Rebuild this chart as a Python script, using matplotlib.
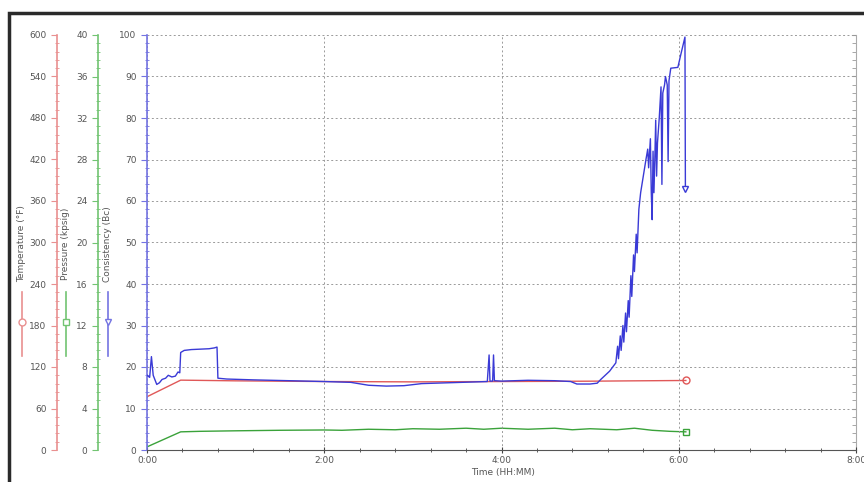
"""
Thickening-time chart: consistency, temperature and pressure against time,
with three stacked left-hand axes.
"""

import matplotlib

matplotlib.use("Agg")
import matplotlib.pyplot as plt
from matplotlib.lines import Line2D
from matplotlib.patches import Rectangle
from matplotlib.ticker import AutoMinorLocator, FixedLocator, MultipleLocator

# Consistency (Bc) vs time (minutes)
cons_t = [0.00, 0.03, 0.05, 0.07, 0.11, 0.14, 0.17, 0.21, 0.24, 0.28, 0.32, 0.35,
          0.37, 0.38, 0.42, 0.50, 0.60, 0.70, 0.76, 0.79, 0.80, 0.90, 1.20, 1.60,
          2.00, 2.30, 2.50, 2.70, 2.90, 3.10, 3.40, 3.70, 3.84, 3.86, 3.87, 3.90,
          3.91, 3.92, 4.00, 4.30, 4.60, 4.78, 4.85, 5.00, 5.08, 5.12, 5.22, 5.29,
          5.31, 5.32, 5.34, 5.35, 5.37, 5.38, 5.40, 5.41, 5.43, 5.44, 5.46, 5.47,
          5.49, 5.50, 5.52, 5.53, 5.55, 5.57, 5.60, 5.63, 5.65, 5.66, 5.68, 5.69,
          5.70, 5.71, 5.72, 5.73, 5.74, 5.75, 5.76, 5.78, 5.80, 5.81, 5.82, 5.84,
          5.85, 5.87, 5.88, 5.89, 5.91, 5.99, 6.02, 6.07, 6.075]
cons_v = [18.0, 17.5, 22.5, 18.0, 15.8, 16.2, 17.0, 17.3, 18.0, 17.6, 17.8, 18.8,
          18.6, 23.5, 24.0, 24.2, 24.3, 24.4, 24.6, 24.8, 17.3, 17.1, 16.9, 16.7,
          16.5, 16.3, 15.6, 15.4, 15.5, 16.0, 16.2, 16.4, 16.5, 22.9, 16.6, 16.6,
          22.9, 16.7, 16.6, 16.8, 16.7, 16.5, 15.9, 15.9, 16.1, 17.0, 19.0, 21.0,
          25.0, 22.0, 27.5, 24.0, 30.0, 26.0, 33.0, 28.5, 36.0, 32.0, 42.0, 37.0,
          47.0, 43.0, 52.0, 47.5, 58.0, 62.0, 66.0, 70.0, 72.5, 68.0, 75.0, 62.0,
          55.5, 72.0, 62.0, 70.0, 79.5, 66.0, 74.0, 80.0, 87.5, 64.0, 86.0, 88.0,
          90.0, 88.0, 69.5, 89.0, 92.0, 92.2, 95.0, 99.5, 63.0]

# Temperature (degF) vs time
temp_t = [0.00, 0.38, 1.00, 2.00, 3.00, 4.00, 5.00, 5.50, 6.08]
temp_v = [77, 101, 100, 99, 98.5, 99, 99.5, 100, 100.5]

# Pressure (kpsig) vs time
pres_t = [0.00, 0.38, 0.60, 1.00, 1.50, 2.00, 2.20, 2.50, 2.80, 3.00, 3.30, 3.60,
          3.80, 4.00, 4.30, 4.60, 4.80, 5.00, 5.30, 5.50, 5.70, 5.90, 6.08]
pres_v = [0.3, 1.75, 1.8, 1.85, 1.9, 1.93, 1.9, 2.0, 1.95, 2.05, 2.0, 2.1,
          2.0, 2.1, 2.0, 2.1, 1.95, 2.05, 1.95, 2.1, 1.9, 1.8, 1.75]

x_ticks = [0, 2, 4, 6, 8]
x_labels = ["0:00", "2:00", "4:00", "6:00", "8:00"]

RED, RED_AX = "#e05858", "#e99090"
GREEN, GREEN_AX = "#3aa23a", "#72c472"
BLUE, BLUE_AX = "#3a3ad6", "#7474e2"
TXT = "#555555"
FS = 6.5

W, H = 864, 482
fig = plt.figure(figsize=(W / 100, H / 100), dpi=100)


def fx(px):
    return px / W


def fy(py):
    return 1 - py / H


# main axes (consistency)
x0, x1, y_top, y_bot = 147, 856, 35, 450
ax = fig.add_axes([fx(x0), fy(y_bot), fx(x1 - x0), (y_bot - y_top) / H])
ax.set_xlim(0, 8)
ax.set_ylim(0, 100)
ax.plot(cons_t, cons_v, color=BLUE, lw=1.0, zorder=5)
ax.plot(cons_t[-1], cons_v[-1], marker="v", ms=5, mfc="white", mec=BLUE, zorder=6)

ax.set_xticks(x_ticks)
ax.set_xticklabels(x_labels)
ax.xaxis.set_minor_locator(MultipleLocator(0.4))
ax.yaxis.set_major_locator(MultipleLocator(10))
ax.yaxis.set_minor_locator(AutoMinorLocator(5))
ax.tick_params(axis="x", which="major", length=5, direction="inout", colors="#444444",
               labelcolor=TXT, labelsize=FS, pad=2)
ax.tick_params(axis="x", which="minor", length=3, direction="inout", colors="#444444")
ax.tick_params(axis="y", which="major", length=4, colors=BLUE_AX, labelcolor=TXT, labelsize=FS)
ax.tick_params(axis="y", which="minor", length=3, direction="inout", colors=BLUE_AX)
ax.grid(True, which="major", color="#9a9a9a", ls=(0, (2, 2.5)), lw=0.7)
ax.spines["top"].set_visible(False)
ax.spines["right"].set_visible(False)
ax.spines["left"].set_color(BLUE_AX)
ax.spines["left"].set_linewidth(1.2)
ax.spines["bottom"].set_color("#555555")

# x title sits just under the 4:00 label, slightly to the right
fig.text(fx(503), fy(473), "Time (HH:MM)", ha="center", va="center", fontsize=FS, color=TXT)

# right-hand spine with ticks only
ax_r = ax.twinx()
ax_r.set_ylim(0, 100)
ax_r.yaxis.set_major_locator(MultipleLocator(10))
ax_r.yaxis.set_minor_locator(AutoMinorLocator(5))
ax_r.tick_params(axis="y", which="both", direction="in", colors="#999999",
                 labelright=False, length=3)
for s in ["top", "left", "bottom"]:
    ax_r.spines[s].set_visible(False)
ax_r.spines["right"].set_color("#aaaaaa")


def side_axis(ylim, major, spine_px, ax_color):
    a = ax.twinx()
    a.set_ylim(*ylim)
    a.spines["left"].set_position(("axes", (spine_px - x0) / (x1 - x0)))
    a.spines["left"].set_visible(True)
    a.spines["left"].set_color(ax_color)
    a.spines["left"].set_linewidth(1.2)
    for s in ["top", "right", "bottom"]:
        a.spines[s].set_visible(False)
    a.yaxis.set_ticks_position("left")
    a.yaxis.set_label_position("left")
    a.yaxis.set_major_locator(FixedLocator(major))
    a.yaxis.set_minor_locator(AutoMinorLocator(5))
    a.tick_params(axis="y", which="major", length=4, colors=ax_color, labelcolor=TXT,
                  labelsize=FS)
    a.tick_params(axis="y", which="minor", length=3, direction="inout", colors=ax_color)
    return a


ax_t = side_axis((0, 600), list(range(0, 601, 60)), 57, RED_AX)
ax_t.plot(temp_t, temp_v, color=RED, lw=1.0, zorder=4)
ax_t.plot(temp_t[-1], temp_v[-1], marker="o", ms=5, mfc="white", mec=RED)

ax_p = side_axis((0, 40), list(range(0, 41, 4)), 98, GREEN_AX)
ax_p.plot(pres_t, pres_v, color=GREEN, lw=1.0, zorder=4)
ax_p.plot(pres_t[-1], pres_v[-1], marker="s", ms=5, mfc="white", mec=GREEN)

ax.set_zorder(ax_p.get_zorder() + 1)
ax.patch.set_visible(False)

# axis titles with their legend glyphs
for label, xpx, color, mk in [("Temperature (°F)", 22, RED_AX, "o"),
                              ("Pressure (kpsig)", 66, GREEN_AX, "s"),
                              ("Consistency (Bc)", 108, BLUE_AX, "v")]:
    fig.text(fx(xpx), fy(244), label, rotation=90, ha="center", va="center",
             fontsize=FS, color=TXT)
    fig.add_artist(Line2D([fx(xpx), fx(xpx)], [fy(292), fy(356)], color=color, lw=1.2))
    fig.add_artist(Line2D([fx(xpx)], [fy(322)], marker=mk, ms=5, mfc="white",
                          mec=color, color=color))

# outer frame
fig.add_artist(Rectangle((fx(9), fy(500)), fx(880), fy(13) - fy(500), fill=False,
                         ec="#2a2a2a", lw=2.5, transform=fig.transFigure))

fig.savefig("out.png", dpi=100)
